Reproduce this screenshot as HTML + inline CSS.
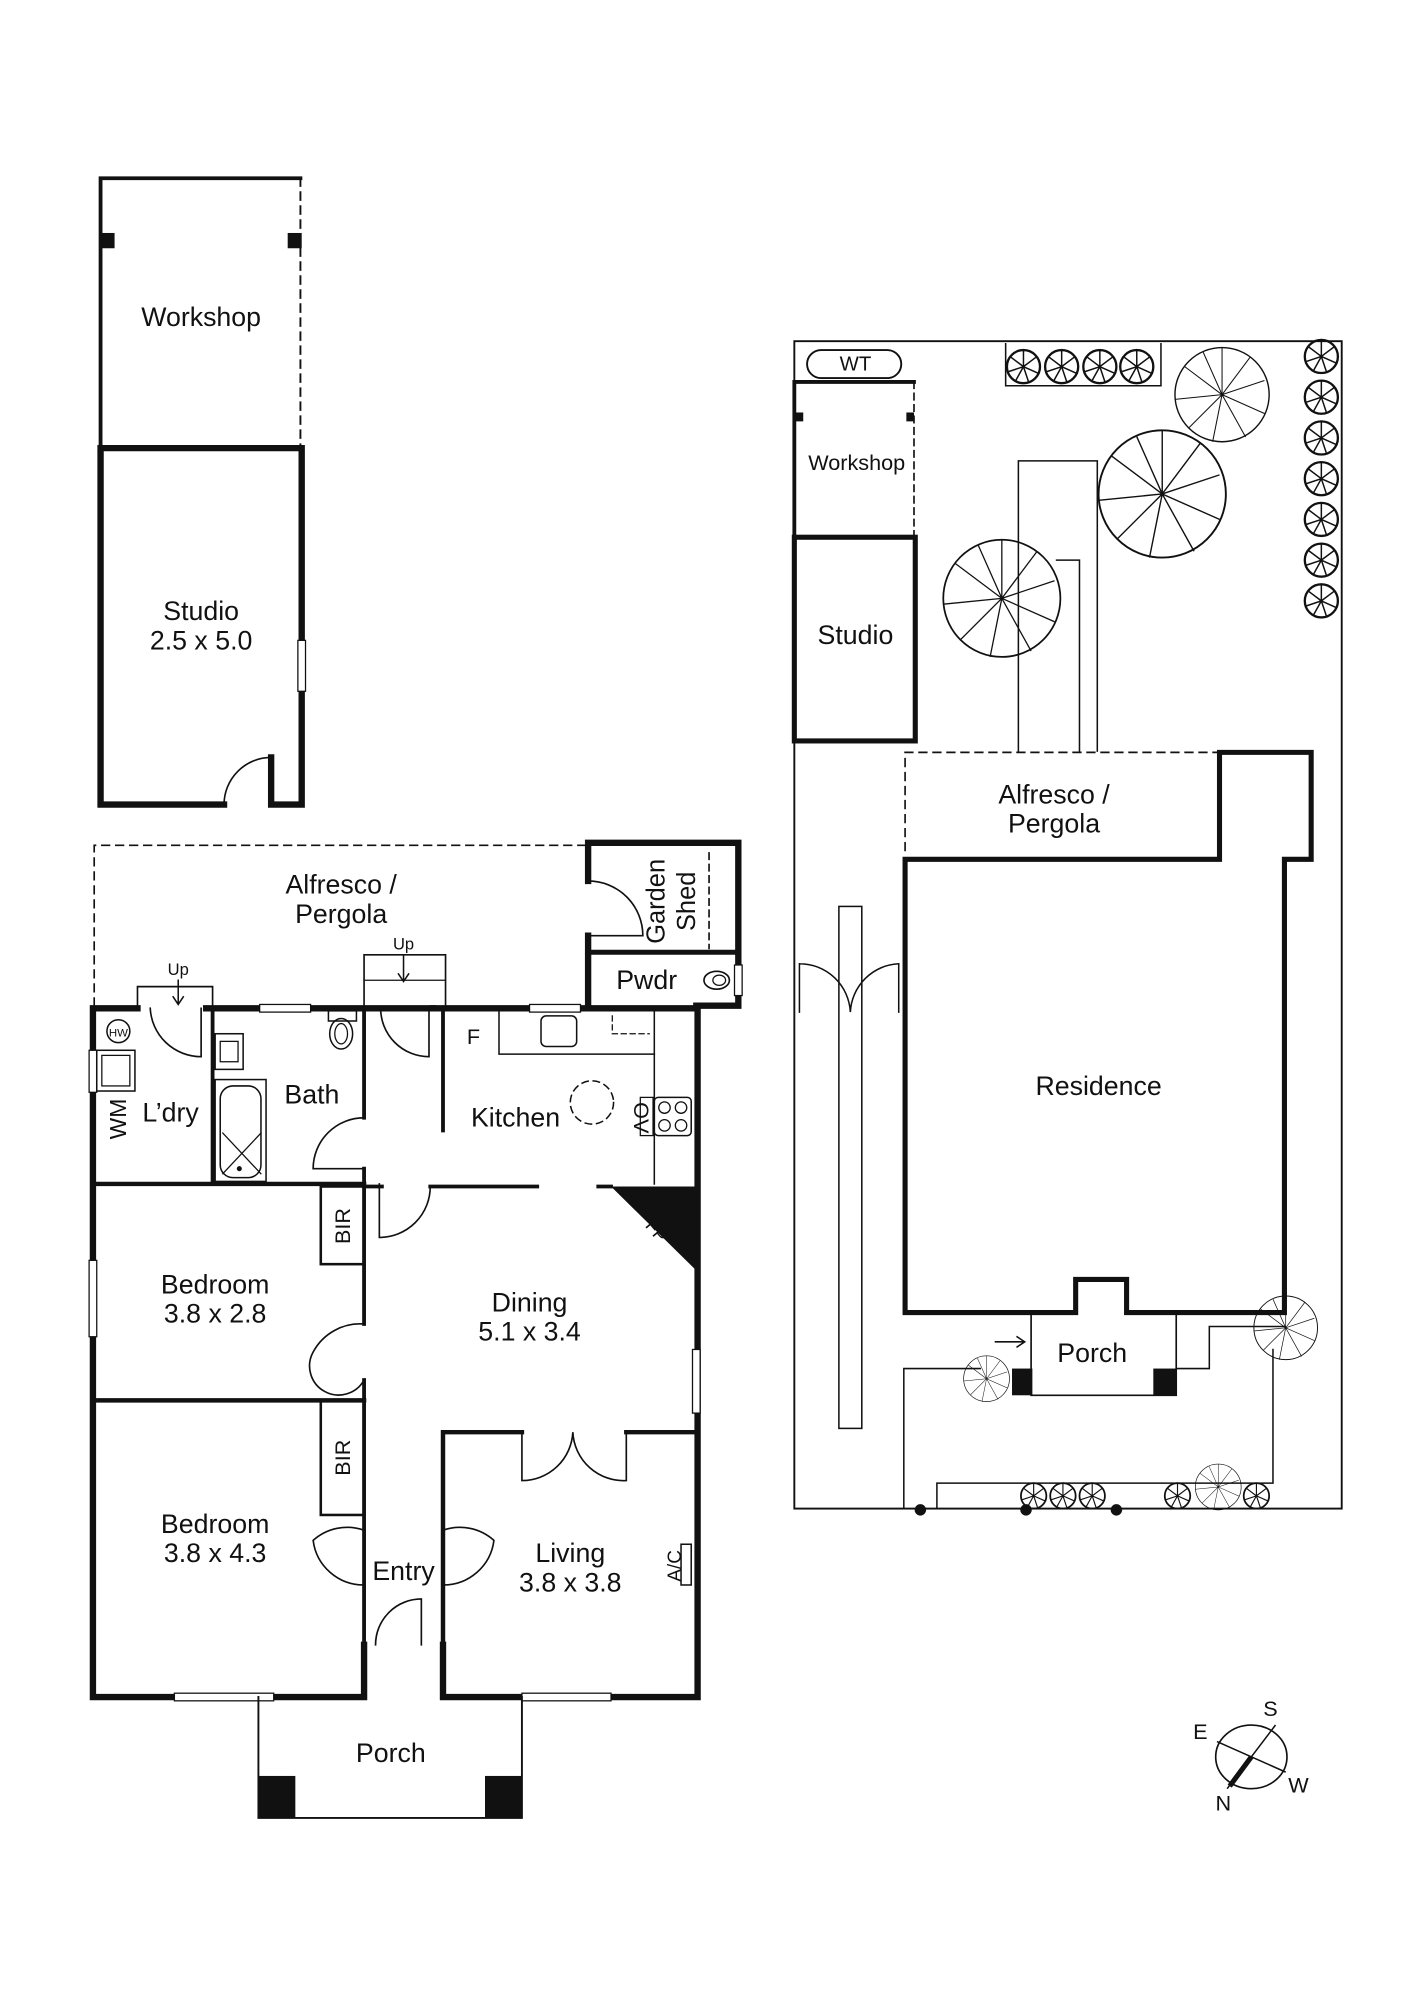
<!DOCTYPE html>
<html><head><meta charset="utf-8"><style>
html,body{margin:0;padding:0;background:#fff}
svg{display:block}
text{font-family:"Liberation Sans",sans-serif;fill:#111}
</style></head><body>
<svg width="1413" height="2000" viewBox="0 0 1110 1571" preserveAspectRatio="none" xmlns="http://www.w3.org/2000/svg">
<defs>
<g id="tr"><circle r="10" fill="none" stroke="#111" stroke-width="1.4"/><path d="M0 0L0-10M0 0L8-6M0 0L9 4M0 0L3 9M0 0L-5 9M0 0L-9 3M0 0L-8-6" stroke="#111" stroke-width="0.9"/></g>
<g id="bt"><circle r="10" fill="none" stroke="#111" stroke-width="0.3"/><path d="M0 0L0-10M0 0L6-8M0 0L9-3M0 0L9 4M0 0L5 9M0 0L-2 10M0 0L-7 7M0 0L-10 1M0 0L-8-6M0 0L-4-9" stroke="#111" stroke-width="0.22"/></g>
</defs>
<g fill="none" stroke="#111" stroke-linecap="square">
<path d="M79 352V140H236" stroke-width="3"/>
<path d="M236 140V352" stroke-width="1.5" stroke-dasharray="6 5"/>
<rect x="80" y="183" width="10" height="12" fill="#111" stroke="none"/>
<rect x="226" y="183" width="11" height="12" fill="#111" stroke="none"/>
<path d="M176 632H79V352H237V632H213V595" stroke-width="5"/>
<path d="M176 632A37 37 0 0 1 213 595" stroke-width="1.3"/>
<rect x="234" y="503" width="6" height="40" fill="#fff" stroke-width="1"/>
<path d="M74 790V664H462" stroke-width="1.3" stroke-dasharray="6 5"/>
<path d="M462 692V662H580V790H547" stroke-width="5"/>
<path d="M462 735V790" stroke-width="5"/>
<path d="M462 748H580" stroke-width="4"/>
<path d="M462 692A43 43 0 0 1 505 735H462" stroke-width="1.3"/>
<path d="M557 670V745" stroke-width="1.3" stroke-dasharray="5 4"/>
<ellipse cx="563" cy="770" rx="10" ry="7" stroke-width="1.3"/>
<ellipse cx="565" cy="770" rx="5" ry="4" stroke-width="1"/>
<rect x="577" y="758" width="6" height="24" fill="#fff" stroke-width="1"/>
<path d="M108 792H73V1333H286V1292" stroke-width="5"/>
<path d="M162 792H340" stroke-width="5"/>
<path d="M340 792H548V1333H348V1292" stroke-width="5"/>
<rect x="70" y="825" width="6" height="33" fill="#fff" stroke-width="1"/>
<rect x="70" y="990" width="6" height="60" fill="#fff" stroke-width="1"/>
<rect x="204" y="789" width="40" height="6" fill="#fff" stroke-width="1"/>
<rect x="416" y="789" width="40" height="6" fill="#fff" stroke-width="1"/>
<rect x="544" y="1060" width="6" height="50" fill="#fff" stroke-width="1"/>
<rect x="137" y="1330" width="78" height="6" fill="#fff" stroke-width="1"/>
<rect x="410" y="1330" width="70" height="6" fill="#fff" stroke-width="1"/>
<path d="M108 792V775H167V792" stroke-width="1.3"/>
<path d="M140 770V788M136 783L140 789L144 783" stroke-width="1.2"/>
<path d="M118 792A40 40 0 0 0 158 830V792" stroke-width="1.3"/>
<path d="M286 792V750H350V792" stroke-width="1.3"/>
<path d="M286 770H350" stroke-width="1"/>
<path d="M317 750V770M313 765L317 771L321 765" stroke-width="1.2"/>
<path d="M299 792A38 38 0 0 0 337 830V792" stroke-width="1.3"/>
<path d="M167 792V930" stroke-width="3"/>
<path d="M73 930H286" stroke-width="3.5"/>
<path d="M286 792V878M286 918V1040M286 1084V1292" stroke-width="3"/>
<path d="M286 878A40 40 0 0 0 246 918H286" stroke-width="1.3"/>
<path d="M348 792V888" stroke-width="3"/>
<path d="M298 930V972A40 40 0 0 0 338 932" stroke-width="1.3"/>
<path d="M286 932H300M338 932H422M470 932H480" stroke-width="3"/>
<path d="M73 1100H286" stroke-width="3.5"/>
<path d="M286 1040A42 42 0 0 0 246 1062A22 22 0 0 0 286 1084" stroke-width="1.3"/>
<rect x="252" y="932" width="34" height="61" stroke-width="2"/>
<rect x="252" y="1100" width="34" height="90" stroke-width="2"/>
<path d="M480 932H547V998Z" fill="#111" stroke="none"/>
<path d="M392 792V828H514" stroke-width="1.2"/>
<path d="M514 792V930" stroke-width="1.2"/>
<rect x="425" y="798" width="28" height="24" rx="4" stroke-width="1.2"/>
<path d="M481 798V812H510" stroke-width="1" stroke-dasharray="4 3"/>
<circle cx="465" cy="866" r="17" stroke-width="1.2" stroke-dasharray="5 4"/>
<rect x="503" y="862" width="10" height="30" stroke-width="1"/>
<rect x="514" y="862" width="29" height="30" rx="3" stroke-width="1.2"/>
<circle cx="522" cy="870" r="4.5" stroke-width="1"/><circle cx="535" cy="870" r="4.5" stroke-width="1"/>
<circle cx="522" cy="884" r="4.5" stroke-width="1"/><circle cx="535" cy="884" r="4.5" stroke-width="1"/>
<circle cx="93" cy="810" r="9" stroke-width="1.2"/>
<rect x="76" y="825" width="30" height="32" stroke-width="1.2"/>
<rect x="80" y="829" width="22" height="24" stroke-width="1"/>
<rect x="169" y="812" width="22" height="28" stroke-width="1.2"/>
<rect x="173" y="818" width="14" height="16" stroke-width="1"/>
<rect x="169" y="848" width="40" height="80" stroke-width="1.2"/>
<rect x="173" y="853" width="32" height="72" rx="10" stroke-width="1.2"/>
<path d="M175 890L205 922M205 890L175 922" stroke-width="1"/>
<circle cx="188" cy="918" r="1.5" fill="#111"/>
<rect x="258" y="794" width="22" height="8" stroke-width="1.2"/>
<ellipse cx="268" cy="812" rx="9" ry="12" stroke-width="1.2"/>
<ellipse cx="268" cy="812" rx="5" ry="8" stroke-width="1"/>
<path d="M348 1290V1125H410M492 1125H547" stroke-width="3.5"/>
<path d="M410 1125V1163A40 40 0 0 0 450 1125A40 40 0 0 0 492 1163V1125" stroke-width="1.3"/>
<path d="M286 1202A40 40 0 0 0 246 1210A40 40 0 0 0 286 1245" stroke-width="1.3"/>
<path d="M348 1202A40 40 0 0 1 388 1210A40 40 0 0 1 348 1245" stroke-width="1.3"/>
<path d="M295 1292A36 36 0 0 1 331 1256V1292" stroke-width="1.3"/>
<rect x="535" y="1213" width="8" height="32" stroke-width="1.2"/>
<path d="M203 1333V1428H410V1333" stroke-width="1.5"/>
<rect x="203" y="1395" width="29" height="33" fill="#111" stroke="none"/>
<rect x="381" y="1395" width="29" height="33" fill="#111" stroke="none"/>

<rect x="624" y="268" width="430" height="917" stroke-width="1.5"/>
<rect x="634" y="275" width="74" height="22" rx="11" stroke-width="1.5"/>
<path d="M624 420V300H718" stroke-width="3"/>
<path d="M718 300V420" stroke-width="1.3" stroke-dasharray="5 4"/>
<rect x="625" y="324" width="6" height="7" fill="#111" stroke="none"/>
<rect x="712" y="324" width="6" height="7" fill="#111" stroke="none"/>
<rect x="624" y="422" width="95" height="160" stroke-width="4"/>
<path d="M711 668V591H958" stroke-width="1.3" stroke-dasharray="6 5"/>
<path d="M711 675H958V591H1030V675H1009V1031H885V1005H845V1031H711Z" stroke-width="4"/>
<path d="M810 1031V1096H924V1031" stroke-width="1.3"/>
<rect x="795" y="1075" width="16" height="21" fill="#111" stroke="none"/>
<rect x="906" y="1075" width="18" height="21" fill="#111" stroke="none"/>
<path d="M782 1054H804M799 1050L805 1054L799 1058" stroke-width="1.2"/>
<path d="M800 590V362H862V590M830 440H848V590" stroke-width="1.2"/>
<rect x="659" y="712" width="18" height="410" stroke-width="1.2"/>
<path d="M628 757V795M706 757V795M628 757A40 40 0 0 1 668 795A40 40 0 0 1 706 757" stroke-width="1.2"/>
<path d="M710 1185V1075H770M736 1185V1165H1000V1060M924 1075H950V1042H1009" stroke-width="1.2"/>
<path d="M790 270V303H912V270" stroke-width="1.2"/>
</g>
<use href="#bt" transform="translate(960 310) scale(3.7)"/>
<use href="#bt" transform="translate(913 388) scale(5)"/>
<use href="#bt" transform="translate(787 470) scale(4.6)"/>
<use href="#bt" transform="translate(1010 1043) scale(2.5)"/>
<use href="#bt" transform="translate(775 1083) scale(1.8)"/>
<use href="#bt" transform="translate(957 1168) scale(1.8)"/>
<use href="#tr" transform="translate(804 288) scale(1.3)"/>
<use href="#tr" transform="translate(834 288) scale(1.3)"/>
<use href="#tr" transform="translate(864 288) scale(1.3)"/>
<use href="#tr" transform="translate(893 288) scale(1.3)"/>
<use href="#tr" transform="translate(1038 280) scale(1.3)"/>
<use href="#tr" transform="translate(1038 312) scale(1.3)"/>
<use href="#tr" transform="translate(1038 344) scale(1.3)"/>
<use href="#tr" transform="translate(1038 376) scale(1.3)"/>
<use href="#tr" transform="translate(1038 408) scale(1.3)"/>
<use href="#tr" transform="translate(1038 440) scale(1.3)"/>
<use href="#tr" transform="translate(1038 472) scale(1.3)"/>
<use href="#tr" transform="translate(812 1175) scale(1)"/>
<use href="#tr" transform="translate(835 1175) scale(1)"/>
<use href="#tr" transform="translate(858 1175) scale(1)"/>
<use href="#tr" transform="translate(925 1175) scale(1)"/>
<use href="#tr" transform="translate(987 1175) scale(1)"/>
<circle cx="723" cy="1186" r="4.5" fill="#111"/>
<circle cx="806" cy="1186" r="4.5" fill="#111"/>
<circle cx="877" cy="1186" r="4.5" fill="#111"/>
<g stroke="#111" fill="none">
<ellipse cx="983" cy="1380" rx="28" ry="25" stroke-width="1.3"/>
<path d="M1002 1355L964 1405M956 1368L1010 1392" stroke-width="1.2"/>
<path d="M983 1380L966 1403" stroke-width="4"/>
</g>
<g font-size="21" text-anchor="middle">
<text x="158" y="256">Workshop</text>
<text x="158" y="487">Studio</text>
<text x="158" y="510">2.5 x 5.0</text>
<text x="268" y="702">Alfresco /</text>
<text x="268" y="725">Pergola</text>
<text x="508" y="777">Pwdr</text>
<text x="134" y="881">L’dry</text>
<text x="245" y="867">Bath</text>
<text x="405" y="885">Kitchen</text>
<text x="169" y="1016">Bedroom</text>
<text x="169" y="1039">3.8 x 2.8</text>
<text x="416" y="1030">Dining</text>
<text x="416" y="1053">5.1 x 3.4</text>
<text x="169" y="1204">Bedroom</text>
<text x="169" y="1227">3.8 x 4.3</text>
<text x="317" y="1241">Entry</text>
<text x="448" y="1227">Living</text>
<text x="448" y="1250">3.8 x 3.8</text>
<text x="307" y="1384">Porch</text>
<text x="672" y="506">Studio</text>
<text x="828" y="631">Alfresco /</text>
<text x="828" y="654">Pergola</text>
<text x="863" y="860">Residence</text>
<text x="858" y="1070">Porch</text>
</g>
<g text-anchor="middle">
<text x="372" y="820" font-size="17">F</text>
<text x="140" y="766" font-size="13">Up</text>
<text x="317" y="746" font-size="13">Up</text>
<text x="93" y="814" font-size="9">HW</text>
<text x="672" y="291" font-size="16">WT</text>
<text x="673" y="369" font-size="17">Workshop</text>
<text x="998" y="1348" font-size="17">S</text>
<text x="943" y="1366" font-size="17">E</text>
<text x="1020" y="1408" font-size="17">W</text>
<text x="961" y="1422" font-size="17">N</text>
<text transform="translate(99 879) rotate(-90)" font-size="18">WM</text>
<text transform="translate(275 963) rotate(-90)" font-size="17">BIR</text>
<text transform="translate(275 1145) rotate(-90)" font-size="17">BIR</text>
<text transform="translate(498 878) rotate(90)" font-size="17">OV</text>
<text transform="translate(535 1230) rotate(-90)" font-size="15">A/C</text>
<text transform="translate(512 970) rotate(50)" font-size="14" fill="#fff">FP</text>
<text transform="translate(522 708) rotate(-90)" font-size="20">Garden</text>
<text transform="translate(546 708) rotate(-90)" font-size="20">Shed</text>
</g>
</svg>
</body></html>
